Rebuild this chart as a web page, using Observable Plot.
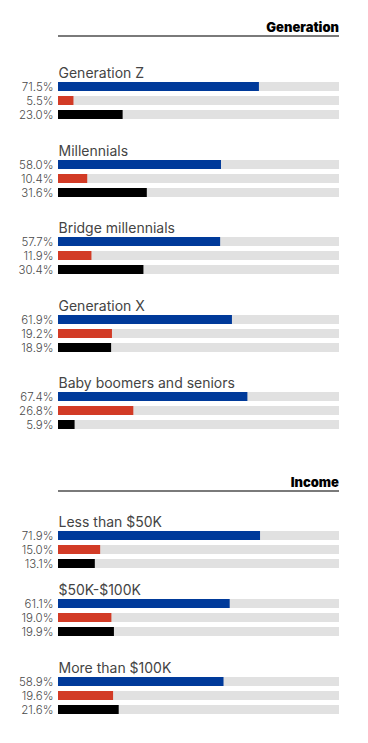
<!DOCTYPE html>
<html><head><meta charset="utf-8">
<script src="https://cdn.jsdelivr.net/npm/d3@7"></script>
<script src="https://cdn.jsdelivr.net/npm/@observablehq/plot@0.6"></script>
<style>
body{margin:0;background:#fff;}
#chart{position:relative;width:368px;height:743px;font-family:Inter,sans-serif;overflow:hidden;}
.hdr{position:absolute;left:58px;width:281px;text-align:right;font-weight:900;font-size:13px;line-height:13px;color:#000;border-bottom:2px solid #7a7a7a;padding-bottom:1px;}
.blk{position:absolute;left:0;}
</style></head><body><div id="chart"></div>
<script>
// Series (three bars per group)
const seriesNames = ["Series 1", "Series 2", "Series 3"];
const seriesColors = ["#003a9a", "#d23b26", "#000000"];

// Generation section
const generationGroups = ["Generation Z", "Millennials", "Bridge millennials", "Generation X", "Baby boomers and seniors"];
const generationS1 = [71.5, 58.0, 57.7, 61.9, 67.4];
const generationS2 = [5.5, 10.4, 11.9, 19.2, 26.8];
const generationS3 = [23.0, 31.6, 30.4, 18.9, 5.9];

// Income section
const incomeGroups = ["Less than $50K", "$50K-$100K", "More than $100K"];
const incomeS1 = [71.9, 61.1, 58.9];
const incomeS2 = [15.0, 19.0, 19.6];
const incomeS3 = [13.1, 19.9, 21.6];

const chart = document.getElementById("chart");
const T = 22;

function header(text, top) {
  const d = document.createElement("div");
  d.className = "hdr";
  d.style.top = top + "px";
  d.textContent = text;
  chart.appendChild(d);
}

function group(title, vals, barTop) {
  const rows = seriesNames.map((s, i) => ({series: s, value: vals[i]}));
  const p = Plot.plot({
    width: 368,
    height: T + 37,
    marginTop: T, marginBottom: 0, marginLeft: 58, marginRight: 29,
    style: "font-family: Inter, sans-serif; overflow: visible; background: transparent;",
    x: {domain: [0, 100], axis: null},
    y: {domain: seriesNames, axis: null, paddingInner: 5 / 14, paddingOuter: 0},
    color: {domain: seriesNames, range: seriesColors},
    marks: [
      Plot.barX(rows, {y: "series", x1: 0, x2: 100, fill: "#e1e1e1"}),
      Plot.barX(rows, {y: "series", x1: 0, x2: "value", fill: "series"}),
      Plot.text(rows, {y: "series", x: 0, text: d => d.value.toFixed(1) + "%", textAnchor: "end", dx: -5, fill: "#4a4a4a", fontSize: 11.5, fontWeight: 300}),
      Plot.text([title], {frameAnchor: "top-left", lineAnchor: "bottom", dy: -5, fontSize: 14, fill: "#444", fontWeight: 400})
    ]
  });
  p.classList.add("blk");
  p.style.position = "absolute";
  p.style.top = (barTop - T) + "px";
  chart.appendChild(p);
}

header("Generation", 21);
generationGroups.forEach((g, i) => group(g, [generationS1[i], generationS2[i], generationS3[i]], Math.round(82 + i * 77.5)));
header("Income", 476);
const incomeTops = [531, 599, 677];
incomeGroups.forEach((g, i) => group(g, [incomeS1[i], incomeS2[i], incomeS3[i]], incomeTops[i]));
</script>
</body></html>
